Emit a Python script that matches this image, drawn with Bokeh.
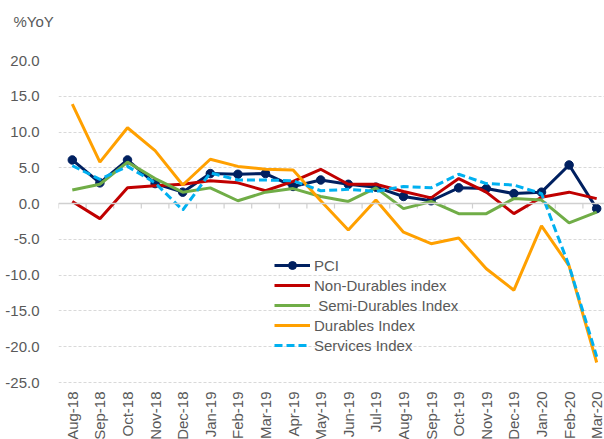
from bokeh.plotting import figure
from bokeh.models import Range1d, FixedTicker, PrintfTickFormatter, Span, Legend, LegendItem, Title
from bokeh.core.properties import value
from bokeh.embed import file_html
from bokeh.resources import INLINE

months = ["Aug-18", "Sep-18", "Oct-18", "Nov-18", "Dec-18", "Jan-19", "Feb-19", "Mar-19",
          "Apr-19", "May-19", "Jun-19", "Jul-19", "Aug-19", "Sep-19", "Oct-19", "Nov-19",
          "Dec-19", "Jan-20", "Feb-20", "Mar-20"]
pci = [6.1, 2.9, 6.1, 2.8, 1.6, 4.2, 4.1, 4.2, 2.4, 3.3, 2.7, 2.3, 1.0, 0.4, 2.2, 2.1, 1.4, 1.6, 5.4, -0.7]
non_durables = [0.3, -2.1, 2.2, 2.5, 2.7, 3.2, 2.9, 1.8, 3.1, 4.8, 2.7, 2.7, 1.7, 0.8, 3.5, 1.6, -1.4, 0.9, 1.6, 0.7]
semi_durables = [1.9, 2.7, 5.8, 3.5, 1.6, 2.2, 0.4, 1.6, 2.1, 1.0, 0.3, 2.2, -0.7, 0.3, -1.4, -1.4, 0.7, 0.5, -2.7, -1.2]
durables = [13.9, 5.8, 10.6, 7.4, 2.6, 6.2, 5.2, 4.8, 4.7, 0.4, -3.7, 0.5, -4.0, -5.6, -4.8, -9.1, -12.1, -3.1, -8.7, -22.2]
services = [5.3, 3.4, 5.2, 2.9, -0.9, 4.3, 3.3, 3.3, 3.2, 1.8, 2.0, 1.7, 2.4, 2.2, 4.1, 2.8, 2.6, 1.4, -8.7, -21.4]
y_ticks = [-25, -20, -15, -10, -5, 0, 5, 10, 15, 20]
y_title = "%YoY"

x = list(range(len(months)))
FONT = "Liberation Sans"
GREY = "#595959"

W, H = 604, 439
LEFT, TOP = 58, 60
FRAME_W, FRAME_H = W - LEFT, H - TOP
PX_PER_UNIT = 322.0 / (max(y_ticks) - min(y_ticks))
PX_PER_CAT = 27.6
y_start = max(y_ticks) - FRAME_H / PX_PER_UNIT
x_end = -0.5 + FRAME_W / PX_PER_CAT

p = figure(width=W, height=H, output_backend="svg", toolbar_location=None,
           x_range=Range1d(-0.5, x_end), y_range=Range1d(y_start, max(y_ticks)),
           min_border_left=LEFT, min_border_right=0, min_border_top=TOP, min_border_bottom=0)
p.outline_line_color = None
p.background_fill_color = "white"
p.border_fill_color = "white"

# y axis
p.yaxis.ticker = FixedTicker(ticks=y_ticks)
p.yaxis.formatter = PrintfTickFormatter(format="%.1f")
p.yaxis.axis_line_color = None
p.yaxis.major_tick_line_color = None
p.yaxis.minor_tick_line_color = None
p.yaxis.major_label_standoff = 13
p.yaxis.major_label_text_font = FONT
p.yaxis.major_label_text_font_size = "15px"
p.yaxis.major_label_text_color = GREY

p.xaxis.visible = False
p.xgrid.grid_line_color = None
p.ygrid.ticker = FixedTicker(ticks=y_ticks)
p.ygrid.grid_line_color = "#d9d9d9"
p.ygrid.grid_line_dash = "3 2"
p.ygrid.grid_line_width = 1

# zero axis line with category-boundary ticks
p.add_layout(Span(location=0, dimension="width", line_color="#d0d0d0", line_width=1.5))
bounds = [i - 0.5 for i in x]
tick_len = 5 / PX_PER_UNIT
p.segment(x0=bounds, y0=[0] * len(bounds), x1=bounds, y1=[-tick_len] * len(bounds),
          line_color="#d0d0d0", line_width=1.2)

# category labels below the lowest gridline
label_y = min(y_ticks) - 9 / PX_PER_UNIT
p.text(x=x, y=[label_y] * len(x), text=months, angle=1.5707963,
       text_align="right", text_baseline="middle",
       text_font=value(FONT), text_font_size="15px", text_color=GREY)

# unit title top-left (second empty line lifts it towards the top edge)
p.add_layout(Title(text=y_title + "\n ", align="left", vertical_align="top", offset=13 - LEFT, standoff=24,
                   text_font=FONT, text_font_size="15px", text_font_style="normal",
                   text_color=GREY), "above")

r_pci = p.line(x, pci, line_color="#002060", line_width=3)
r_pci_m = p.scatter(x, pci, size=8.5, marker="circle", fill_color="#002060", line_color="#002060")
r_nd = p.line(x, non_durables, line_color="#C00000", line_width=3)
r_sd = p.line(x, semi_durables, line_color="#70AD47", line_width=3)
r_d = p.line(x, durables, line_color="#FFA000", line_width=3)
r_s = p.line(x, services, line_color="#00B0F0", line_width=3, line_dash="8 4")

legend = Legend(items=[
    LegendItem(label="PCI", renderers=[r_pci, r_pci_m]),
    LegendItem(label="Non-Durables index", renderers=[r_nd]),
    LegendItem(label=" Semi-Durables Index", renderers=[r_sd]),
    LegendItem(label="Durables Index", renderers=[r_d]),
    LegendItem(label="Services Index", renderers=[r_s]),
], location=(216, H - 355), padding=0, margin=0, spacing=0, label_height=20, glyph_height=20,
    glyph_width=36, label_standoff=4, background_fill_alpha=0, border_line_alpha=0,
    label_text_font=FONT, label_text_font_size="15px", label_text_color=GREY)
p.add_layout(legend, "center")

open("out.html", "w").write(file_html(p, INLINE))
